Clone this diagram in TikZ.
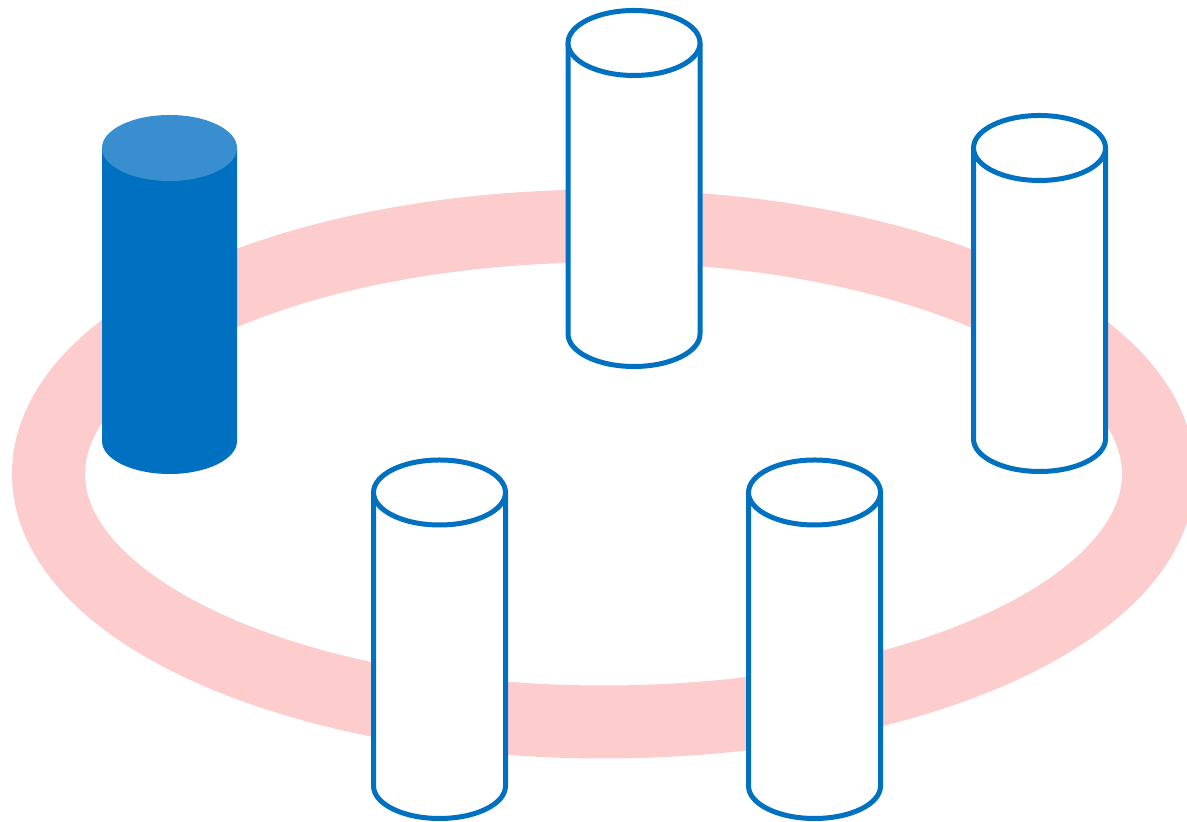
\documentclass[tikz,border=0pt]{standalone}
\definecolor{bleu}{HTML}{0070C0}
\definecolor{bleuclair}{HTML}{388ECF}
\definecolor{rose}{HTML}{FDCDCD}

\begin{document}
\begin{tikzpicture}[
  x=0.5pt, y=0.5pt,
  anneau/.style={draw=rose, line width=36.5pt},
  cyl/.style={draw=bleu, line width=2.5pt, line join=round},
  corps/.style={fill=white},
]
\useasboundingbox (0,0) rectangle (1187,822);
% l'anneau
\draw[anneau] (603.5,348) ellipse [x radius=555, y radius=248];
% le cylindre plein
\fill[bleu] (102,674) -- (102,381)
  arc[start angle=180, end angle=360, x radius=67.5, y radius=33] -- (237,674) -- cycle;
\fill[bleuclair] (169.5,674) ellipse [x radius=67.5, y radius=33];
% les cylindres vides
\foreach \cx/\yh/\yb in {634/779/488, 1039.5/674/383, 439.5/329.5/36, 814.5/329.5/36} {
  \fill[corps] ({\cx-66},\yh) -- ({\cx-66},\yb)
    arc[start angle=180, end angle=360, x radius=66, y radius=32.5] -- ({\cx+66},\yh) -- cycle;
  \draw[cyl] ({\cx-66},\yh) -- ({\cx-66},\yb)
    arc[start angle=180, end angle=360, x radius=66, y radius=32.5] -- ({\cx+66},\yh);
  \draw[cyl, fill=white] (\cx,\yh) ellipse [x radius=66, y radius=32.5];
}
\end{tikzpicture}
\end{document}
